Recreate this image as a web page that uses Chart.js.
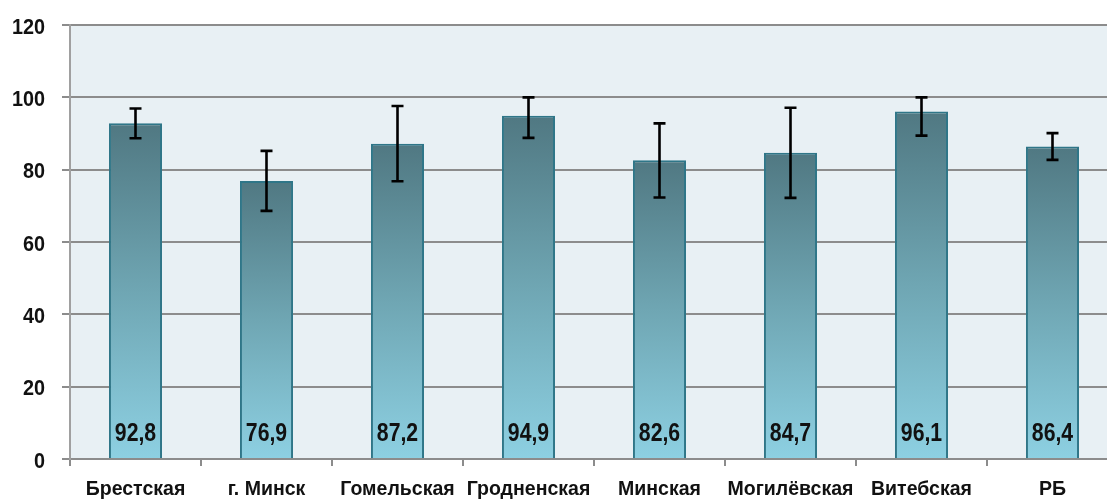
<!DOCTYPE html>
<html>
<head>
<meta charset="utf-8">
<script src="https://cdn.jsdelivr.net/npm/chart.js@4/dist/chart.umd.min.js"></script>
<style>
  html, body { margin: 0; padding: 0; background: #ffffff; overflow: hidden; }
  /* plot area runs a little past the right edge, as in the original */
  #wrap { width: 1107px; height: 499px; overflow: hidden; }
</style>
</head>
<body>
<div id="wrap"><canvas id="myChart" width="1118" height="499"></canvas></div>
<script>
// ====== data ======
const regions = ["Брестская", "г. Минск", "Гомельская", "Гродненская", "Минская", "Могилёвская", "Витебская", "РБ"];
const values = [92.8, 76.9, 87.2, 94.9, 82.6, 84.7, 96.1, 86.4];
const errUp = [4.1, 8.3, 10.4, 5.1, 10.2, 12.4, 3.9, 3.7];
const errDown = [4.1, 8.3, 10.4, 6.1, 10.3, 12.5, 6.7, 3.7];
const valueLabels = ["92,8", "76,9", "87,2", "94,9", "82,6", "84,7", "96,1", "86,4"];
const yTicks = [0, 20, 40, 60, 80, 100, 120];

const fontFam = "'Liberation Sans', Arial, sans-serif";

// narrow bold text (no condensed font installed, so squeeze it)
function narrowText(c, txt, x, y, size, sx) {
  c.save();
  c.translate(x, y);
  c.scale(sx, 1);
  c.font = "bold " + size + "px " + fontFam;
  c.fillText(txt, 0, 0);
  c.restore();
}

// plot background
const bgPlugin = {
  id: "plotBg",
  beforeDraw(chart) {
    const a = chart.chartArea;
    const c = chart.ctx;
    c.save();
    c.fillStyle = "#e8f0f4";
    c.fillRect(a.left, a.top, a.right - a.left, a.bottom - a.top);
    c.restore();
  },
};

// error bars, labels in bars, axis labels
const extrasPlugin = {
  id: "extras",
  afterDraw(chart) {
    const c = chart.ctx;
    const y = chart.scales.y;
    const x = chart.scales.x;
    const meta = chart.getDatasetMeta(0);
    c.save();
    c.fillStyle = "#111111";
    c.textBaseline = "alphabetic";
    for (let i = 0; i < meta.data.length; i++) {
      const bx = meta.data[i].x;
      const yTop = y.getPixelForValue(values[i] + errUp[i]);
      const yBot = y.getPixelForValue(values[i] - errDown[i]);
      c.strokeStyle = "#000000";
      c.lineWidth = 2.6;
      c.beginPath();
      c.moveTo(bx, yTop);
      c.lineTo(bx, yBot);
      c.moveTo(bx - 6, yTop);
      c.lineTo(bx + 6, yTop);
      c.moveTo(bx - 6, yBot);
      c.lineTo(bx + 6, yBot);
      c.stroke();

      c.textAlign = "center";
      narrowText(c, valueLabels[i], bx, 441, 25, 0.85);
    }
    // category labels
    for (let i = 0; i < regions.length; i++) {
      c.textAlign = "center";
      narrowText(c, regions[i], x.getPixelForValue(i), 495, 21, 0.93);
    }
    // value axis labels
    for (let i = 0; i < yTicks.length; i++) {
      c.textAlign = "right";
      narrowText(c, String(yTicks[i]), 45, y.getPixelForValue(yTicks[i]) + 8.5, 22, 0.9);
    }
    c.restore();
  },
};

let ctx = document.getElementById("myChart").getContext("2d");

var graphie = new Chart(ctx, {
  type: "bar",
  data: {
    labels: regions,
    datasets: [
      {
        label: "Значение",
        data: values,
        backgroundColor: (context) => {
          const chart = context.chart;
          if (!chart.chartArea || context.parsed === undefined) return "#6fa3b0";
          const ys = chart.scales.y;
          const top = ys.getPixelForValue(context.parsed.y);
          const bottom = ys.getPixelForValue(0);
          const g = chart.ctx.createLinearGradient(0, top, 0, bottom);
          g.addColorStop(0, "#507882");
          g.addColorStop(0.5, "#6fa6b3");
          g.addColorStop(1, "#8dd0e2");
          return g;
        },
        borderColor: "#2f7688",
        borderWidth: 2,
        barPercentage: 0.405,
        categoryPercentage: 1,
      },
    ],
  },
  options: {
    responsive: false,
    animation: false,
    layout: { padding: { top: 25, right: 0, left: 0, bottom: 0 } },
    plugins: {
      legend: { display: false },
      tooltip: { enabled: false },
    },
    scales: {
      x: {
        offset: true,
        afterFit(scale) {
          scale.height = 40;
        },
        grid: {
          offset: true,
          drawOnChartArea: false,
          drawTicks: true,
          tickLength: 7,
          color: "#8c8c8c",
          lineWidth: 2,
        },
        border: { display: true, color: "#8c8c8c", width: 2 },
        ticks: { display: false, autoSkip: false },
      },
      y: {
        min: 0,
        max: 120,
        afterFit(scale) {
          scale.width = 70;
        },
        ticks: { stepSize: 20, display: false },
        grid: {
          color: "#8c8c8c",
          lineWidth: 2,
          tickLength: 8,
        },
        border: { display: true, color: "#a0a0a0", width: 2 },
      },
    },
  },
  plugins: [bgPlugin, extrasPlugin],
});
</script>
</body>
</html>
